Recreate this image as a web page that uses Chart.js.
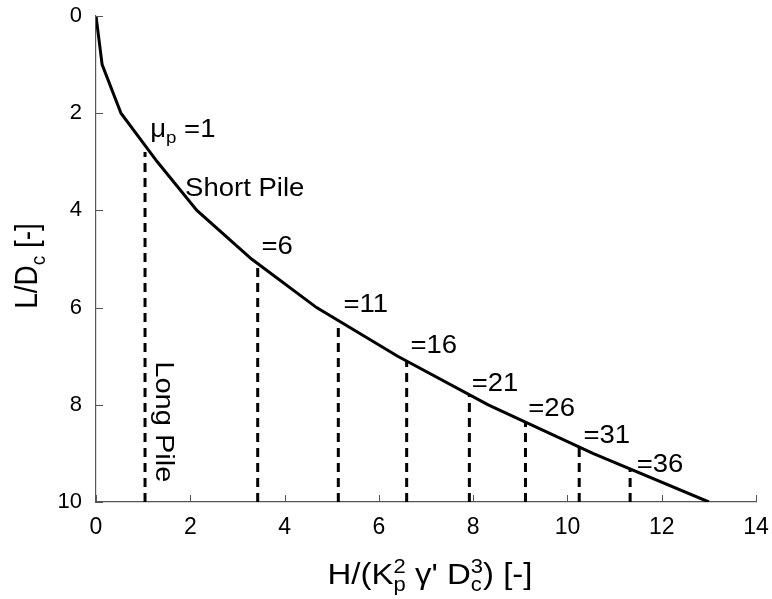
<!DOCTYPE html>
<html><head><meta charset="utf-8">
<script src="https://cdn.jsdelivr.net/npm/chart.js@4/dist/chart.umd.min.js"></script>
<style>html,body{margin:0;padding:0;background:#fff}#wrap{width:772px;height:599px;position:relative}</style>
</head><body><div id="wrap"><canvas id="c"></canvas></div>
<script>
// ---- data ----
const curveDepth = [0, 1, 2, 3, 4, 5, 6, 7, 8, 9, 10];            // L/Dc
const curveLoad  = [0, 0.13, 0.53, 1.3, 2.14, 3.3, 4.68, 6.4, 8.32, 10.54, 13.0]; // H/(Kp^2 γ' Dc^3)
const muValues   = [1, 6, 11, 16, 21, 26, 31, 36];
const muLoad     = [1.04, 3.43, 5.14, 6.59, 7.92, 9.11, 10.25, 11.33];
const muTopDepth = [2.8, 5.1, 6.29, 7.11, 7.8, 8.37, 8.87, 9.34];
const muLabelX   = [1.15, 3.51, 5.25, 6.67, 7.97, 9.17, 10.34, 11.47];
const muLabelY   = [2.49, 4.9, 6.09, 6.93, 7.71, 8.24, 8.79, 9.38];
const xTicks = [0, 2, 4, 6, 8, 10, 12, 14];
const yTicks = [0, 2, 4, 6, 8, 10];
const zoneLabels = ["Short Pile", "Long Pile"];
const zoneX = [1.89, 1.27];
const zoneY = [3.7, 8.35];

const FONT = "'Liberation Sans', Arial, Helvetica, sans-serif";
const AXIS_COLOR = '#555';

const datasets = [{
  data: curveLoad.map((x, i) => ({x, y: curveDepth[i]})),
  borderColor: '#000', borderWidth: 3, showLine: true, pointRadius: 0, tension: 0
}];
muLoad.forEach((x, i) => {
  datasets.push({
    data: [{x, y: 10}, {x, y: muTopDepth[i]}],
    borderColor: '#000', borderWidth: 3, borderDash: [9, 6], showLine: true, pointRadius: 0
  });
});

function drawRich(ctx, parts, align) {
  const widths = parts.map(p => {
    if (p.stack) return Math.max(...p.stack.map(s => { ctx.font = s.f + 'px ' + FONT; return ctx.measureText(s.t).width; }));
    ctx.font = p.f + 'px ' + FONT; return ctx.measureText(p.t).width;
  });
  const total = widths.reduce((a, b) => a + b, 0);
  let cx = align === 'center' ? -total / 2 : 0;
  ctx.textBaseline = 'alphabetic'; ctx.textAlign = 'left'; ctx.fillStyle = '#000';
  parts.forEach((p, i) => {
    const items = p.stack ? p.stack : [p];
    items.forEach(s => { ctx.font = s.f + 'px ' + FONT; ctx.fillText(s.t, cx, s.dy || 0); });
    cx += widths[i];
  });
}

const decor = {
  id: 'decor',
  afterDraw(chart) {
    const ctx = chart.ctx, xs = chart.scales.x, ys = chart.scales.y, ca = chart.chartArea;
    ctx.save();
    ctx.strokeStyle = AXIS_COLOR; ctx.lineWidth = 1;
    xTicks.forEach(v => { const px = Math.round(xs.getPixelForValue(v)) + 0.5;
      ctx.beginPath(); ctx.moveTo(px, ca.bottom); ctx.lineTo(px, ca.bottom - 7); ctx.stroke(); });
    yTicks.forEach(v => { const py = Math.round(ys.getPixelForValue(v)) + 0.5;
      ctx.beginPath(); ctx.moveTo(ca.left, py); ctx.lineTo(ca.left + 7, py); ctx.stroke(); });
    ctx.restore();

    muValues.forEach((m, i) => {
      ctx.save();
      ctx.translate(xs.getPixelForValue(muLabelX[i]), ys.getPixelForValue(muLabelY[i]));
      ctx.scale(1.1, 1);
      if (i === 0) drawRich(ctx, [{t: 'μ', f: 25}, {t: 'p', f: 17, dy: 6}, {t: ' =' + m, f: 25}], 'left');
      else drawRich(ctx, [{t: '=' + m, f: 25}], 'left');
      ctx.restore();
    });
    ctx.save();
    ctx.translate(xs.getPixelForValue(zoneX[0]), ys.getPixelForValue(zoneY[0]));
    ctx.scale(1.1, 1);
    drawRich(ctx, [{t: zoneLabels[0], f: 25}], 'left');
    ctx.restore();
    ctx.save();
    ctx.translate(xs.getPixelForValue(zoneX[1]), ys.getPixelForValue(zoneY[1]));
    ctx.rotate(Math.PI / 2);
    ctx.scale(1, 0.9);
    drawRich(ctx, [{t: zoneLabels[1], f: 29}], 'center');
    ctx.restore();

    ctx.save();
    ctx.translate((ca.left + ca.right) / 2 + 4, 584);
    ctx.scale(1.1, 1);
    drawRich(ctx, [
      {t: 'H/(K', f: 30},
      {stack: [{t: '2', f: 20, dy: -11}, {t: 'p', f: 20, dy: 7}]},
      {t: ' γ\' D', f: 30},
      {stack: [{t: '3', f: 20, dy: -11}, {t: 'c', f: 20, dy: 7}]},
      {t: ') [-]', f: 30}
    ], 'center');
    ctx.restore();
    ctx.save();
    ctx.translate(37, 266);
    ctx.rotate(-Math.PI / 2);
    ctx.scale(1, 1.1);
    drawRich(ctx, [{t: 'L/D', f: 28}, {t: 'c', f: 19, dy: 7}, {t: ' [-]', f: 28}], 'center');
    ctx.restore();
  }
};

new Chart(document.getElementById('c'), {
  type: 'scatter',
  data: {datasets},
  options: {
    responsive: true, maintainAspectRatio: false, animation: false,
    layout: {padding: {top: 16, right: 16, left: 0, bottom: 0}},
    plugins: {legend: {display: false}, tooltip: {enabled: false}},
    scales: {
      x: {
        type: 'linear', min: 0, max: 14,
        afterFit(s) { s.height = 97; s.paddingLeft = 0; s.paddingRight = 0; },
        afterBuildTicks(s) { s.ticks = xTicks.map(v => ({value: v})); },
        grid: {display: true, drawOnChartArea: false, drawTicks: false},
        border: {display: true, color: AXIS_COLOR, width: 1.2},
        ticks: {color: '#000', font: {family: FONT, size: 23}, padding: 12, maxRotation: 0, autoSkip: false}
      },
      y: {
        type: 'linear', min: 0, max: 10, reverse: true,
        afterFit(s) { s.width = 96; s.paddingTop = 0; s.paddingBottom = 0; },
        afterBuildTicks(s) { s.ticks = yTicks.map(v => ({value: v})); },
        grid: {display: true, drawOnChartArea: false, drawTicks: false},
        border: {display: true, color: AXIS_COLOR, width: 1.2},
        ticks: {color: '#000', font: {family: FONT, size: 22}, padding: 14, autoSkip: false}
      }
    }
  },
  plugins: [decor]
});
</script></body></html>
